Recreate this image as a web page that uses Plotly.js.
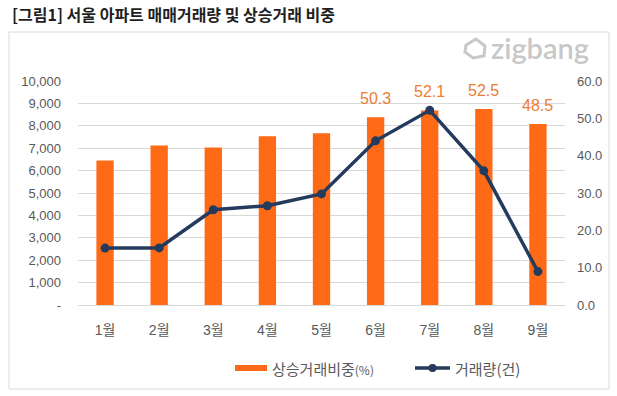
<!DOCTYPE html>
<html>
<head>
<meta charset="utf-8">
<script src="https://cdn.plot.ly/plotly-3.0.1.min.js"></script>
<style>html,body{margin:0;padding:0;background:#fff;}#chart{width:617px;height:396px;}</style>
</head>
<body>
<div id="chart"></div>
<script>
// ---- data ----
const months = ['1월','2월','3월','4월','5월','6월','7월','8월','9월'];
const shareRising = [38.7, 42.7, 42.2, 45.2, 46.0, 50.3, 52.1, 52.5, 48.5]; // 상승거래비중(%)
const volume = [2540, 2550, 4250, 4430, 4960, 7330, 8690, 5990, 1490];      // 거래량(건)
const labeledMonths = ['6월','7월','8월','9월'];
const leftTickVals = [0,1000,2000,3000,4000,5000,6000,7000,8000,9000,10000];
const leftTickText = ['-','1,000','2,000','3,000','4,000','5,000','6,000','7,000','8,000','9,000','10,000'];
const rightTickVals = [0,10,20,30,40,50,60];
const rightTickText = ['0.0','10.0','20.0','30.0','40.0','50.0','60.0'];
const titleText = '[그림1] 서울 아파트 매매거래량 및 상승거래 비중';
const barName = '상승거래비중';
const lineName = '거래량(건)';

// ---- layout helpers (pixel -> paper) ----
const W = 617, H = 396;
const L = 78, R = 52, T = 81, B = 91;
const pw = W - L - R, ph = H - T - B;
const px = v => (v - L) / pw;
const py = v => (H - B - v) / ph;

const FONT = 'Liberation Sans, Arial, Noto Sans CJK KR, sans-serif';
const KFONT = 'Noto Sans CJK KR, Liberation Sans, sans-serif';
const BAR_C = '#FF6A16';
const LINE_C = '#253B5E';
const LABEL_C = '#ED7D31';
const TXT = '#595959';

const traces = [
  {
    type: 'bar', x: months, y: shareRising, yaxis: 'y', xaxis: 'x',
    marker: {color: BAR_C}, width: 0.32, name: barName, showlegend: false,
    hoverinfo: 'skip'
  },
  {
    type: 'scatter', mode: 'lines+markers', x: months, y: volume, yaxis: 'y2', xaxis: 'x',
    line: {color: LINE_C, width: 3.5}, marker: {color: LINE_C, size: 9},
    name: lineName, showlegend: false, hoverinfo: 'skip'
  }
];

const annotations = [];
months.forEach((m, i) => {
  if (labeledMonths.includes(m)) {
    annotations.push({
      x: m, y: shareRising[i], xref: 'x', yref: 'y',
      text: shareRising[i].toFixed(1), showarrow: false,
      yanchor: 'bottom', yshift: 8,
      font: {family: FONT, size: 16, color: LABEL_C}
    });
  }
});
// logo text
annotations.push({
  xref: 'paper', yref: 'paper', x: px(489), y: py(48), xanchor: 'left', yanchor: 'middle',
  text: 'zigbang', showarrow: false,
  font: {family: 'Lato, Roboto, sans-serif', size: 29, color: '#C8C8C8', weight: 600}
});
// manual legend texts
annotations.push({
  xref: 'paper', yref: 'paper', x: px(270), y: py(368), xanchor: 'left', yanchor: 'middle',
  text: barName + '<span style="font-size:12px">(%)</span>', showarrow: false,
  font: {family: KFONT, size: 15, color: TXT}
});
annotations.push({
  xref: 'paper', yref: 'paper', x: px(453), y: py(368), xanchor: 'left', yanchor: 'middle',
  text: lineName, showarrow: false,
  font: {family: KFONT, size: 15, color: TXT}
});

const shapes = [
  // outer box
  {type: 'rect', xref: 'paper', yref: 'paper', x0: px(9), x1: px(609), y0: py(389), y1: py(32),
   line: {color: '#D9D9D9', width: 1}, fillcolor: 'rgba(0,0,0,0)', layer: 'below'},
  // legend: bar swatch
  {type: 'rect', xref: 'paper', yref: 'paper', x0: px(235), x1: px(267), y0: py(371), y1: py(365),
   line: {width: 0}, fillcolor: BAR_C},
  // legend: line swatch
  {type: 'line', xref: 'paper', yref: 'paper', x0: px(415), x1: px(450), y0: py(368), y1: py(368),
   line: {color: LINE_C, width: 3.5}},
  {type: 'circle', xref: 'paper', yref: 'paper', x0: px(428.5), x1: px(436.5), y0: py(372), y1: py(364),
   line: {width: 0}, fillcolor: LINE_C},
  // logo icon
  {type: 'path', xref: 'paper', yref: 'paper',
   path: 'M ' + px(466) + ' ' + py(45) + ' L ' + px(476) + ' ' + py(39) + ' L ' + px(485) + ' ' + py(46) +
         ' L ' + px(484) + ' ' + py(56) + ' L ' + px(473) + ' ' + py(58) + ' L ' + px(465) + ' ' + py(52) + ' Z',
   line: {color: '#C8C8C8', width: 3}, fillcolor: 'rgba(0,0,0,0)'}
];

const layout = {
  width: W, height: H,
  margin: {l: L, r: R, t: T, b: B, pad: 0},
  paper_bgcolor: '#fff', plot_bgcolor: '#fff',
  showlegend: false,
  title: {text: titleText, x: 12 / W, xanchor: 'left', xref: 'container', y: 1 - 15 / H, yanchor: 'middle', yref: 'container',
          font: {family: KFONT, size: 16, color: '#1F1F1F', weight: 700}},
  bargap: 0.68,
  xaxis: {
    type: 'category', range: [-0.5, 8.5], showgrid: false, zeroline: false,
    showline: true, linecolor: '#D9D9D9', linewidth: 1, ticks: '',
    tickfont: {family: FONT, size: 14, color: TXT}, ticklabelstandoff: 12
  },
  yaxis: {
    side: 'right', range: [0, 60], tickvals: rightTickVals, ticktext: rightTickText,
    showgrid: false, zeroline: false, showline: false, ticks: '',
    tickfont: {family: FONT, size: 13, color: TXT}, ticklabelstandoff: 11
  },
  yaxis2: {
    side: 'left', overlaying: 'y', range: [0, 10000], tickvals: leftTickVals, ticktext: leftTickText,
    showgrid: true, gridcolor: '#D9D9D9', gridwidth: 1, zeroline: false, showline: false, ticks: '',
    tickfont: {family: FONT, size: 13, color: TXT}, ticklabelstandoff: 16
  },
  annotations: annotations,
  shapes: shapes
};

Plotly.newPlot('chart', traces, layout, {staticPlot: true, displayModeBar: false});
</script>
</body>
</html>
